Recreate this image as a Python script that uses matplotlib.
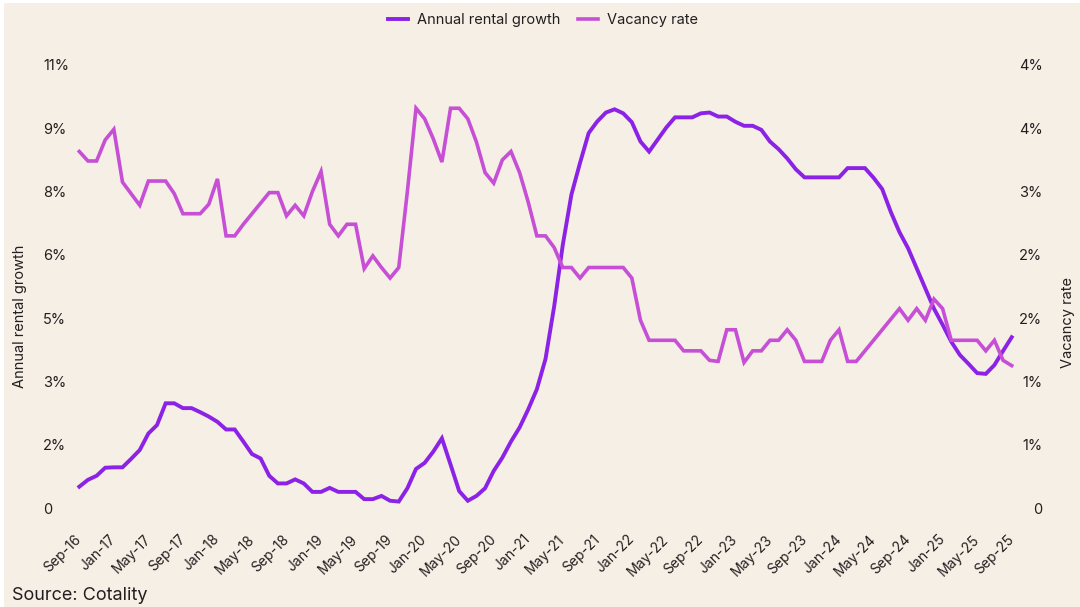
import numpy as np
import pandas as pd
import matplotlib
matplotlib.use("Agg")
import matplotlib.pyplot as plt
from matplotlib.patches import Rectangle

# meses Sep-16 .. Sep-25
meses = pd.date_range("2016-09-01", "2025-09-01", freq="MS").strftime("%b-%y").tolist()

# crecimiento anual del alquiler (%), eje izquierdo
crecimiento = [
    0.53, 0.70, 0.80, 1.00, 1.01, 1.01, 1.22, 1.44, 1.85, 2.06,
    2.60, 2.60, 2.48, 2.48, 2.38, 2.27, 2.14, 1.95, 1.95, 1.65,
    1.34, 1.23, 0.80, 0.61, 0.61, 0.71, 0.61, 0.40, 0.40, 0.50,
    0.40, 0.40, 0.40, 0.22, 0.22, 0.30, 0.18, 0.16, 0.49, 0.97,
    1.12, 1.40, 1.73, 1.08, 0.42, 0.18, 0.30, 0.49, 0.92, 1.25,
    1.65, 2.00, 2.45, 2.95, 3.70, 5.00, 6.53, 7.78, 8.57, 9.31,
    9.60, 9.82, 9.90, 9.80, 9.58, 9.10, 8.85, 9.15, 9.45, 9.70,
    9.70, 9.70, 9.80, 9.82, 9.72, 9.72, 9.59, 9.49, 9.49, 9.39,
    9.10, 8.91, 8.68, 8.41, 8.21, 8.21, 8.21, 8.21, 8.21, 8.44,
    8.44, 8.44, 8.20, 7.92, 7.35, 6.85, 6.45, 5.95, 5.45, 4.95,
    4.55, 4.13, 3.80, 3.58, 3.35, 3.33, 3.55, 3.90, 4.24,
]

# tasa de vacancia (%), eje derecho
vacancia = [
    3.38, 3.29, 3.29, 3.49, 3.59, 3.09, 2.98, 2.87, 3.10, 3.10,
    3.10, 2.98, 2.79, 2.79, 2.79, 2.88, 3.12, 2.58, 2.58, 2.69,
    2.79, 2.89, 2.99, 2.99, 2.77, 2.87, 2.77, 3.00, 3.19, 2.69,
    2.58, 2.69, 2.69, 2.27, 2.39, 2.28, 2.18, 2.28, 3.00, 3.79,
    3.69, 3.50, 3.28, 3.79, 3.79, 3.69, 3.47, 3.18, 3.08, 3.30,
    3.38, 3.18, 2.90, 2.58, 2.58, 2.47, 2.28, 2.28, 2.18, 2.28,
    2.28, 2.28, 2.28, 2.28, 2.18, 1.78, 1.59, 1.59, 1.59, 1.59,
    1.49, 1.49, 1.49, 1.40, 1.39, 1.69, 1.69, 1.38, 1.49, 1.49,
    1.59, 1.59, 1.69, 1.59, 1.39, 1.39, 1.39, 1.59, 1.69, 1.39,
    1.39, 1.49, 1.59, 1.69, 1.79, 1.89, 1.78, 1.89, 1.78, 1.98,
    1.89, 1.59, 1.59, 1.59, 1.59, 1.49, 1.59, 1.40, 1.35,
]

ticks_izq = np.linspace(0, 11, 8)
ticks_der = np.linspace(0, 4.2, 8)

fondo = "#F5EFE5"
morado = "#8C22E6"
magenta = "#C64FD6"
texto = "#231F20"
fuente = "Inter"

W, H = 1080, 607
fig = plt.figure(figsize=(W / 100, H / 100), dpi=100, facecolor="white")
fig.patches.append(Rectangle((4 / W, 0), 1, 1 - 3 / H, transform=fig.transFigure,
                             facecolor=fondo, edgecolor="none", zorder=-10))

# ejes en pixeles: izquierda 75, derecha 1016, arriba 65, abajo 508
ax = fig.add_axes([75 / W, (H - 508) / H, (1016 - 75) / W, (508 - 65) / H])
ax.set_facecolor("none")
ax2 = ax.twinx()

x = np.arange(len(meses))
l1, = ax.plot(x, crecimiento, color=morado, lw=2.8, solid_joinstyle="miter", zorder=3)
l2, = ax2.plot(x, vacancia, color=magenta, lw=2.6, solid_joinstyle="miter", zorder=2)

ax.set_xlim(-0.5, len(meses) - 0.5)
ax.set_ylim(0, 11)
ax2.set_ylim(0, 4.2)

def fmt(v):
    return "0" if v == 0 else f"{v:.0f}%"

ax.set_yticks(ticks_izq)
ax.set_yticklabels([fmt(v) for v in ticks_izq], ha="left", fontsize=10.5,
                   color=texto, family=fuente)
ax.tick_params(axis="y", length=0, pad=23)
ax2.set_yticks(ticks_der)
ax2.set_yticklabels([fmt(v) for v in ticks_der], ha="right", fontsize=10.5,
                    color=texto, family=fuente)
ax2.tick_params(axis="y", length=0, pad=19)

pos = x[::4]
ax.set_xticks(pos)
ax.set_xticklabels([meses[i] for i in pos], rotation=45, ha="right", va="center",
                   rotation_mode="anchor", fontsize=10, color=texto, family=fuente)
ax.tick_params(axis="x", length=0, pad=21)

for a in (ax, ax2):
    for s in a.spines.values():
        s.set_visible(False)

fig.text(20 / W, 1 - 316 / H, "Annual rental growth", rotation=90, ha="center", va="center",
         fontsize=10.5, color=texto, family=fuente)
fig.text(1068 / W, 1 - 322 / H, "Vacancy rate", rotation=90, ha="center", va="center",
         fontsize=10.5, color=texto, family=fuente)

fig.legend([l1, l2], ["Annual rental growth", "Vacancy rate"], loc="center",
           bbox_to_anchor=(543 / W, 1 - 20 / H), ncol=2, frameon=False,
           handlelength=1.4, handletextpad=0.6, columnspacing=1.2,
           prop={"family": fuente, "size": 10.5}, labelcolor=texto)

fig.text(12 / W, 3 / H, "Source: Cotality", ha="left", va="bottom",
         fontsize=13, color=texto, family=fuente)

fig.savefig("out.png", dpi=100, facecolor=fig.get_facecolor())
